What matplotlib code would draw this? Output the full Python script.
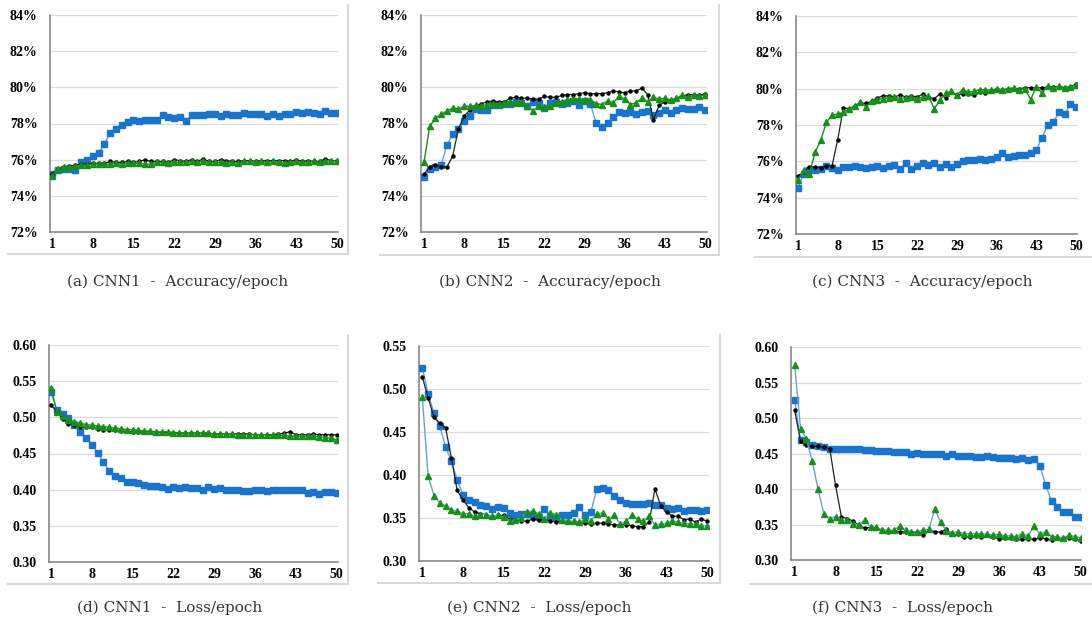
import numpy as np
import matplotlib
matplotlib.use("Agg")
import matplotlib.pyplot as plt
from matplotlib.lines import Line2D
from matplotlib.ticker import FuncFormatter

epochs = np.arange(1, 51)
xticks = [1, 8, 15, 22, 29, 36, 43, 50]

# accuracy (%) per epoch
acc1_blue = [75.2, 75.45, 75.5, 75.5, 75.45, 75.85, 76.0, 76.2, 76.35, 76.85,
             77.5, 77.7, 77.9, 78.1, 78.2, 78.15, 78.2, 78.2, 78.2, 78.45,
             78.35, 78.3, 78.35, 78.15, 78.45, 78.45, 78.45, 78.55, 78.5, 78.4,
             78.55, 78.45, 78.45, 78.6, 78.5, 78.5, 78.55, 78.4, 78.55, 78.4,
             78.5, 78.55, 78.65, 78.6, 78.65, 78.6, 78.55, 78.7, 78.6, 78.6]
acc1_black = [75.2, 75.5, 75.6, 75.65, 75.7, 75.75, 75.75, 75.8, 75.8, 75.8,
              75.9, 75.85, 75.85, 75.9, 75.85, 75.9, 76.0, 75.9, 75.9, 75.9,
              75.85, 76.0, 75.95, 75.9, 76.0, 75.9, 76.05, 75.9, 75.9, 76.0,
              75.95, 75.9, 75.9, 75.95, 75.95, 75.9, 75.95, 75.95, 75.95, 75.95,
              75.95, 75.9, 76.0, 75.9, 75.95, 75.9, 75.9, 76.05, 75.95, 75.95]
acc1_green = [75.1, 75.5, 75.6, 75.6, 75.65, 75.7, 75.7, 75.75, 75.75, 75.75,
              75.75, 75.8, 75.75, 75.8, 75.8, 75.8, 75.75, 75.75, 75.85, 75.85,
              75.8, 75.85, 75.85, 75.85, 75.9, 75.85, 75.9, 75.85, 75.85, 75.85,
              75.8, 75.85, 75.8, 75.9, 75.9, 75.85, 75.9, 75.85, 75.9, 75.85,
              75.8, 75.85, 75.9, 75.85, 75.85, 75.9, 75.85, 75.9, 75.9, 75.95]

acc2_blue = [75.05, 75.5, 75.6, 75.7, 76.8, 77.4, 77.7, 78.15, 78.4, 78.8,
             78.75, 78.75, 79.0, 79.0, 79.1, 79.1, 79.2, 79.15, 78.95, 79.2,
             79.15, 78.85, 79.15, 79.2, 79.1, 79.15, 79.25, 79.05, 79.25, 79.1,
             78.05, 77.8, 78.05, 78.35, 78.65, 78.6, 78.65, 78.5, 78.65, 78.7,
             78.45, 78.6, 78.75, 78.6, 78.75, 78.85, 78.8, 78.8, 78.9, 78.75]
acc2_black = [75.2, 75.6, 75.7, 75.6, 75.6, 76.2, 77.7, 78.4, 78.75, 78.95,
              79.1, 79.2, 79.25, 79.2, 79.2, 79.4, 79.45, 79.4, 79.4, 79.35,
              79.35, 79.5, 79.45, 79.45, 79.55, 79.6, 79.6, 79.65, 79.7, 79.65,
              79.65, 79.65, 79.7, 79.8, 79.75, 79.7, 79.8, 79.8, 79.95, 79.6,
              78.2, 79.0, 79.2, 79.3, 79.35, 79.5, 79.6, 79.6, 79.55, 79.65]
acc2_green = [75.85, 77.85, 78.3, 78.5, 78.7, 78.85, 78.8, 78.95, 78.95, 79.0,
              78.95, 79.05, 79.1, 79.1, 79.15, 79.2, 79.15, 79.2, 78.95, 78.7,
              78.95, 78.9, 78.95, 79.15, 79.2, 79.3, 79.35, 79.35, 79.3, 79.3,
              79.1, 79.05, 79.25, 79.15, 79.5, 79.35, 79.05, 79.15, 79.4, 79.2,
              79.45, 79.35, 79.4, 79.3, 79.4, 79.55, 79.45, 79.55, 79.5, 79.6]

acc3_blue = [74.55, 75.3, 75.55, 75.5, 75.6, 75.75, 75.65, 75.5, 75.7, 75.7,
             75.75, 75.7, 75.65, 75.7, 75.75, 75.65, 75.75, 75.8, 75.6, 75.9,
             75.6, 75.75, 75.9, 75.8, 75.9, 75.7, 75.85, 75.7, 75.85, 76.0,
             76.1, 76.05, 76.15, 76.05, 76.15, 76.25, 76.45, 76.25, 76.3, 76.35,
             76.35, 76.45, 76.6, 77.3, 78.0, 78.15, 78.7, 78.6, 79.15, 79.0]
acc3_black = [75.2, 75.4, 75.7, 75.7, 75.65, 75.75, 75.75, 77.2, 78.95, 78.9,
              79.05, 79.2, 79.2, 79.3, 79.5, 79.6, 79.6, 79.55, 79.65, 79.55,
              79.6, 79.55, 79.7, 79.55, 79.45, 79.7, 79.5, 79.8, 79.65, 79.7,
              79.7, 79.65, 79.8, 79.75, 79.85, 79.9, 79.95, 79.95, 80.0, 80.0,
              80.05, 80.05, 80.05, 80.05, 80.1, 80.1, 80.1, 80.05, 80.1, 80.25]
acc3_green = [75.0, 75.5, 75.3, 76.5, 77.15, 78.15, 78.55, 78.6, 78.7, 78.9,
              79.05, 79.25, 79.0, 79.3, 79.4, 79.45, 79.5, 79.55, 79.45, 79.5,
              79.55, 79.45, 79.55, 79.6, 78.9, 79.35, 79.75, 79.85, 79.65, 79.95,
              79.8, 79.85, 79.95, 79.95, 79.9, 80.0, 79.95, 80.0, 80.05, 79.95,
              80.0, 79.4, 80.1, 79.75, 80.15, 80.05, 80.15, 80.05, 80.1, 80.2]

# loss per epoch
loss1_blue = [0.535, 0.510, 0.505, 0.499, 0.489, 0.480, 0.471, 0.462, 0.451, 0.438,
              0.426, 0.419, 0.416, 0.411, 0.410, 0.409, 0.407, 0.405, 0.405, 0.403,
              0.401, 0.403, 0.402, 0.404, 0.402, 0.402, 0.400, 0.404, 0.401, 0.402,
              0.400, 0.399, 0.399, 0.398, 0.398, 0.400, 0.399, 0.398, 0.399, 0.399,
              0.399, 0.399, 0.399, 0.399, 0.396, 0.397, 0.394, 0.397, 0.397, 0.395]
loss1_black = [0.517, 0.508, 0.498, 0.491, 0.490, 0.487, 0.487, 0.486, 0.484, 0.483,
               0.482, 0.482, 0.481, 0.481, 0.480, 0.480, 0.480, 0.480, 0.480, 0.479,
               0.479, 0.478, 0.478, 0.478, 0.478, 0.478, 0.478, 0.478, 0.477, 0.477,
               0.477, 0.477, 0.477, 0.477, 0.477, 0.476, 0.476, 0.476, 0.476, 0.477,
               0.478, 0.480, 0.476, 0.476, 0.476, 0.477, 0.476, 0.476, 0.476, 0.476]
loss1_green = [0.540, 0.508, 0.502, 0.497, 0.494, 0.492, 0.490, 0.489, 0.488, 0.487,
               0.486, 0.485, 0.484, 0.483, 0.483, 0.482, 0.481, 0.481, 0.480, 0.480,
               0.480, 0.479, 0.479, 0.478, 0.478, 0.478, 0.478, 0.478, 0.477, 0.477,
               0.477, 0.477, 0.476, 0.476, 0.476, 0.476, 0.476, 0.476, 0.475, 0.475,
               0.475, 0.474, 0.474, 0.474, 0.474, 0.474, 0.473, 0.472, 0.471, 0.469]

loss2_blue = [0.525, 0.494, 0.472, 0.457, 0.433, 0.416, 0.394, 0.377, 0.371, 0.369,
              0.365, 0.364, 0.361, 0.363, 0.362, 0.356, 0.354, 0.355, 0.355, 0.352,
              0.351, 0.360, 0.352, 0.351, 0.353, 0.354, 0.356, 0.363, 0.353, 0.357,
              0.384, 0.385, 0.382, 0.376, 0.371, 0.368, 0.366, 0.366, 0.366, 0.367,
              0.365, 0.365, 0.362, 0.361, 0.362, 0.358, 0.359, 0.359, 0.358, 0.359]
loss2_black = [0.514, 0.490, 0.467, 0.460, 0.455, 0.420, 0.382, 0.371, 0.362, 0.357,
               0.355, 0.354, 0.351, 0.353, 0.353, 0.349, 0.348, 0.347, 0.346, 0.349,
               0.348, 0.348, 0.347, 0.345, 0.346, 0.345, 0.345, 0.344, 0.344, 0.343,
               0.344, 0.344, 0.343, 0.342, 0.342, 0.342, 0.341, 0.340, 0.340, 0.345,
               0.384, 0.364, 0.357, 0.352, 0.352, 0.348, 0.349, 0.345, 0.349, 0.346]
loss2_green = [0.491, 0.399, 0.376, 0.368, 0.364, 0.359, 0.358, 0.355, 0.355, 0.352,
               0.354, 0.354, 0.352, 0.353, 0.351, 0.347, 0.348, 0.350, 0.357, 0.358,
               0.355, 0.349, 0.356, 0.353, 0.348, 0.347, 0.346, 0.345, 0.349, 0.347,
               0.355, 0.356, 0.349, 0.353, 0.343, 0.346, 0.353, 0.349, 0.346, 0.352,
               0.342, 0.343, 0.344, 0.347, 0.345, 0.344, 0.343, 0.343, 0.341, 0.341]

loss3_blue = [0.525, 0.469, 0.466, 0.462, 0.460, 0.459, 0.457, 0.457, 0.456, 0.456,
              0.456, 0.456, 0.455, 0.455, 0.454, 0.454, 0.453, 0.452, 0.452, 0.452,
              0.450, 0.451, 0.449, 0.449, 0.449, 0.449, 0.447, 0.449, 0.447, 0.447,
              0.446, 0.445, 0.445, 0.447, 0.445, 0.444, 0.444, 0.444, 0.442, 0.443,
              0.441, 0.442, 0.433, 0.406, 0.383, 0.375, 0.367, 0.368, 0.360, 0.360]
loss3_black = [0.511, 0.467, 0.462, 0.460, 0.460, 0.459, 0.457, 0.405, 0.361, 0.358,
               0.355, 0.349, 0.345, 0.346, 0.345, 0.342, 0.340, 0.341, 0.340, 0.340,
               0.338, 0.340, 0.335, 0.342, 0.340, 0.339, 0.344, 0.336, 0.336, 0.333,
               0.333, 0.334, 0.332, 0.335, 0.332, 0.330, 0.331, 0.331, 0.329, 0.329,
               0.329, 0.329, 0.331, 0.330, 0.328, 0.331, 0.331, 0.331, 0.329, 0.327]
loss3_green = [0.574, 0.485, 0.471, 0.439, 0.400, 0.365, 0.358, 0.361, 0.356, 0.356,
               0.351, 0.349, 0.357, 0.346, 0.346, 0.342, 0.342, 0.342, 0.348, 0.342,
               0.340, 0.340, 0.342, 0.343, 0.372, 0.353, 0.341, 0.338, 0.340, 0.337,
               0.337, 0.337, 0.337, 0.336, 0.335, 0.336, 0.334, 0.334, 0.333, 0.337,
               0.334, 0.348, 0.336, 0.340, 0.333, 0.333, 0.331, 0.335, 0.333, 0.331]

captions = ["(a) CNN1  -  Accuracy/epoch", "(b) CNN2  -  Accuracy/epoch",
            "(c) CNN3  -  Accuracy/epoch", "(d) CNN1  -  Loss/epoch",
            "(e) CNN2  -  Loss/epoch", "(f) CNN3  -  Loss/epoch"]

W, H = 1092, 621
fig = plt.figure(figsize=(W / 100, H / 100), dpi=100)
fig.patch.set_facecolor("white")

# pixel boxes: left, right, top, bottom, x of epoch 1, x of epoch 50
boxes = [(50, 338, 15, 232, 52, 337), (421, 707, 15, 232, 424, 705),
         (796, 1077, 16, 234, 798, 1076), (49, 338, 345, 562, 51, 336.7),
         (419, 709, 346, 561, 422.3, 707.3), (791, 1081, 347, 560, 794.7, 1080.7)]
cap_pos = [(178, 282), (550, 282), (922, 282), (170, 608), (539, 608), (903, 608)]

series = [
    (acc1_blue, acc1_black, acc1_green), (acc2_blue, acc2_black, acc2_green),
    (acc3_blue, acc3_black, acc3_green), (loss1_blue, loss1_black, loss1_green),
    (loss2_blue, loss2_black, loss2_green), (loss3_blue, loss3_black, loss3_green),
]
ylims = [(72, 84), (72, 84), (72, 84), (0.30, 0.60), (0.30, 0.55), (0.30, 0.60)]
ysteps = [2, 2, 2, 0.05, 0.05, 0.05]

BLUE = "#1874cd"
BLUE_LINE = "#5fa3e0"
GREEN = "#17901a"

for i, (box, (blue, black, green)) in enumerate(zip(boxes, series)):
    l, r, t, b, x1, x50 = box
    ax = fig.add_axes([l / W, 1 - b / H, (r - l) / W, (b - t) / H])
    per = (x50 - x1) / 49
    ax.set_xlim(1 - (x1 - l) / per, 50 + (r - x50) / per)
    lo, hi = ylims[i]
    ax.set_ylim(lo, hi)
    ax.set_yticks(np.arange(lo, hi + ysteps[i] / 2, ysteps[i]))
    ax.set_xticks(xticks)
    if i < 3:
        ax.yaxis.set_major_formatter(FuncFormatter(lambda v, p: f"{v:.0f}%"))
    else:
        ax.yaxis.set_major_formatter(FuncFormatter(lambda v, p: f"{v:.2f}"))
    ax.grid(axis="y", color="#dcdcdc", lw=0.9)
    ax.set_axisbelow(True)
    for s in ("top", "right"):
        ax.spines[s].set_visible(False)
    for s in ("left", "bottom"):
        ax.spines[s].set_color("#7f7f7f")
        ax.spines[s].set_linewidth(1.1)
    ax.tick_params(axis="y", length=0, pad=9)
    ax.tick_params(axis="x", length=0, pad=4)
    for lab in ax.get_xticklabels() + ax.get_yticklabels():
        lab.set_fontfamily("Liberation Serif")
        lab.set_fontweight("bold")
        lab.set_fontsize(10)
    green_line = BLUE_LINE if i in (4, 5) else GREEN
    ax.plot(epochs, blue, color=BLUE_LINE, lw=1.0, marker="s", ms=4.3,
            mfc=BLUE, mec=BLUE, zorder=3)
    ax.plot(epochs, black, color="#222222", lw=0.9, marker="o", ms=2.2,
            mfc="black", mec="black", zorder=4)
    ax.plot(epochs, green, color=green_line, lw=1.0, marker="^", ms=4.0,
            mfc=GREEN, mec=GREEN, zorder=5)
    cx, cy = cap_pos[i]
    fig.text(cx / W, 1 - cy / H, captions[i], ha="center", va="center",
             family="DejaVu Serif", size=11, color="#333333")

# light frame edges of the original chart boxes
frames = [((8, 348), 254, 348, (5, 254)), ((380, 719), 255, 719, (5, 255)),
          ((755, 1092), 257, None, None), ((8, 348), 584, 348, (335, 584)),
          ((378, 720), 583, 720, (335, 583)), ((750, 1092), 584, None, None)]
for (xa, xb), yb, xr, yr in frames:
    fig.add_artist(Line2D([xa / W, xb / W], [1 - yb / H, 1 - yb / H],
                          color="#d9d9d9", lw=1.5, transform=fig.transFigure))
    if xr is not None:
        fig.add_artist(Line2D([xr / W, xr / W], [1 - yr[0] / H, 1 - yr[1] / H],
                              color="#d9d9d9", lw=1.5, transform=fig.transFigure))

fig.savefig("out.png", dpi=100, facecolor="white")
